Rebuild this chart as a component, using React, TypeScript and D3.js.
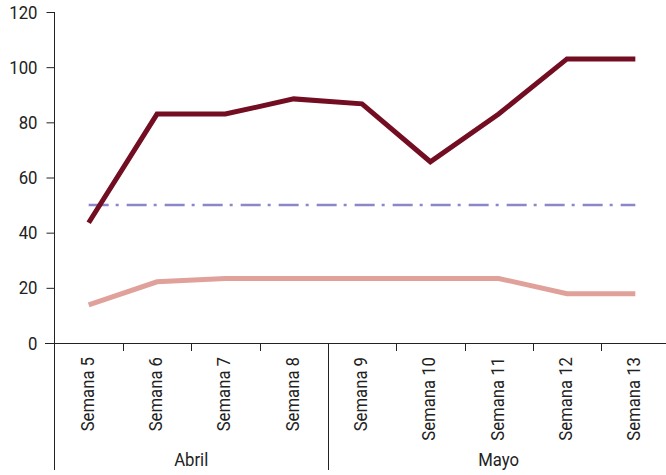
import { useEffect, useRef } from "react";
import * as d3 from "d3";

const semanas = ["Semana 5", "Semana 6", "Semana 7", "Semana 8", "Semana 9", "Semana 10", "Semana 11", "Semana 12", "Semana 13"];
const serieOscura = [43.6, 83, 83, 88.5, 86.7, 65.7, 83, 103, 103];
const serieClara = [13.8, 22.2, 23.4, 23.4, 23.4, 23.4, 23.4, 17.9, 17.9];
const meta = [50, 50, 50, 50, 50, 50, 50, 50, 50];
const meses = [
  { label: "Abril", from: 0, to: 3 },
  { label: "Mayo", from: 4, to: 8 },
];
const yTicks = [0, 20, 40, 60, 80, 100, 120];

const FONT = "Roboto, 'Noto Sans', sans-serif";
const SQUEEZE = 0.88; // narrow look of the original condensed face

const App = () => {
  const ref = useRef<HTMLDivElement>(null);

  useEffect(() => {
    const width = 666;
    const height = 475;

    const svg = d3
      .select(ref.current)
      .html("")
      .append("svg")
      .attr("width", width)
      .attr("height", height)
      .style("display", "block")
      .style("font-family", FONT);

    const x = d3.scaleBand().domain(semanas).range([54.5, 669.5]).padding(0);
    const y = d3.scaleLinear().domain([0, 120]).range([343, 12]);
    const cx = (d: string) => x(d)! + x.bandwidth() / 2;

    // y axis
    const yAxis = svg
      .append("g")
      .attr("transform", "translate(54.5,0)")
      .call(d3.axisLeft(y).tickValues(yTicks).tickSize(8).tickPadding(7));
    yAxis.select(".domain").attr("stroke", "#222").attr("d", "M0,12V343");
    yAxis.selectAll(".tick line").attr("stroke", "#222");
    yAxis
      .selectAll<SVGTextElement, number>(".tick text")
      .attr("fill", "#222")
      .attr("x", null)
      .attr("transform", `translate(-17,0) scale(${SQUEEZE},1)`)
      .style("font-size", "19px")
      .style("font-family", FONT);

    // x axis base line
    svg
      .append("line")
      .attr("x1", 45)
      .attr("x2", 666)
      .attr("y1", 343.5)
      .attr("y2", 343.5)
      .attr("stroke", "#222");

    // ticks between weeks, long ones between months
    semanas.slice(1).forEach((s, i) => {
      const idx = i + 1;
      const isSep = meses.some((m) => m.from === idx);
      const px = Math.round(x(s)!) + 0.5;
      svg
        .append("line")
        .attr("x1", px)
        .attr("x2", px)
        .attr("y1", 343)
        .attr("y2", isSep ? 470 : 351)
        .attr("stroke", "#222");
    });
    svg
      .append("line")
      .attr("x1", 54.5)
      .attr("x2", 54.5)
      .attr("y1", 343)
      .attr("y2", 470)
      .attr("stroke", "#222");

    // week labels rotated
    svg
      .append("g")
      .selectAll("text")
      .data(semanas)
      .enter()
      .append("text")
      .attr("transform", (d) => `translate(${cx(d) + 5},357) rotate(-90) scale(${SQUEEZE},1)`)
      .attr("text-anchor", "end")
      .attr("fill", "#222")
      .style("font-size", "19px")
      .text((d) => d);

    // month labels
    svg
      .append("g")
      .selectAll("text")
      .data(meses)
      .enter()
      .append("text")
      .attr(
        "transform",
        (m) =>
          `translate(${(x(semanas[m.from])! + x(semanas[m.to])! + x.bandwidth()) / 2},466) scale(${SQUEEZE},1)`
      )
      .attr("text-anchor", "middle")
      .attr("fill", "#222")
      .style("font-size", "19px")
      .text((m) => m.label);

    const line = d3
      .line<number>()
      .x((_, i) => cx(semanas[i]))
      .y((d) => y(d));

    svg
      .append("path")
      .datum(meta)
      .attr("d", line)
      .attr("fill", "none")
      .attr("stroke", "#8C87C6")
      .attr("stroke-width", 2.5)
      .attr("stroke-dasharray", "20,7,3,8");

    svg
      .append("path")
      .datum(serieClara)
      .attr("d", line)
      .attr("fill", "none")
      .attr("stroke", "#E0A19B")
      .attr("stroke-width", 5);

    svg
      .append("path")
      .datum(serieOscura)
      .attr("d", line)
      .attr("fill", "none")
      .attr("stroke", "#730D22")
      .attr("stroke-width", 5);
  }, []);

  return <div ref={ref} style={{ position: "absolute", left: 0, top: 0 }} />;
};

export default App;
